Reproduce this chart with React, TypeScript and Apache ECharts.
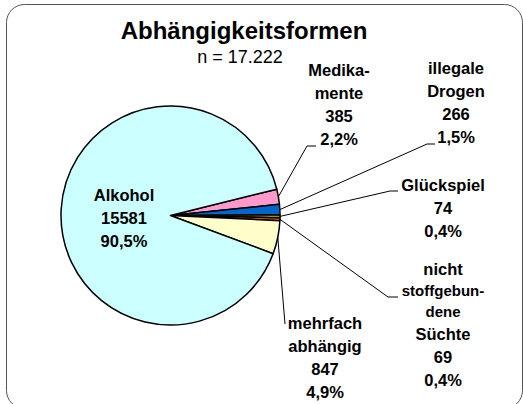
import React, { useEffect, useRef } from 'react';
import * as echarts from 'echarts';

const categories = ['Medikamente', 'illegale Drogen', 'Glückspiel', 'nicht stoffgebundene Süchte', 'mehrfach abhängig', 'Alkohol'];
const labelNameLines = [['Medika-', 'mente'], ['illegale', 'Drogen'], ['Glückspiel'], ['nicht', 'stoffgebun-', 'dene', 'Süchte'], ['mehrfach', 'abhängig'], ['Alkohol']];
const smallLines = ['stoffgebun-', 'dene'];
const values = [385, 266, 74, 69, 847, 15581];
const colors = ['#FF99CC', '#0066CC', '#999900', '#FF6600', '#FFFFCC', '#CCFFFF'];
const titleText = 'Abhängigkeitsformen';
const subtitleText = 'n = 17.222';

const FONT = "'Liberation Sans', Arial, sans-serif";

// label layout (positions only): center x, top y, elbow and end of leader line
const labelPos: { x: number; y: number; elbow?: number[]; end?: number[] }[] = [
  { x: 339, y: 58, elbow: [307, 146], end: [316, 146] },
  { x: 456, y: 56.5, elbow: [427, 144], end: [435, 144] },
  { x: 443, y: 173, elbow: [390, 191], end: [398, 191] },
  { x: 443, y: 257, elbow: [388, 297], end: [398, 297] },
  { x: 325, y: 311, elbow: [285, 324], end: [285, 324] },
  { x: 124, y: 183.5 },
];

export default function App() {
  const ref = useRef<HTMLDivElement>(null);
  useEffect(() => {
    if (!ref.current) return;
    const chart = echarts.init(ref.current, undefined, { renderer: 'svg' });
    const total = values.reduce((a, b) => a + b, 0);
    const cx = 170.5, cy = 215.5, R = 109.5, startAngle = 13.9;
    chart.setOption({
      animation: false,
      backgroundColor: '#fff',
      graphic: [
        {
          type: 'rect',
          shape: { x: 6.5, y: 4.5, width: 516, height: 404, r: 18 },
          style: { fill: 'none', stroke: '#555', lineWidth: 1 },
          silent: true,
        },
        {
          type: 'text',
          x: 244,
          y: 30.5,
          style: { text: titleText, align: 'center', verticalAlign: 'middle', font: "bold 24px 'Liberation Sans', Arial, sans-serif", fill: '#000' },
        },
        {
          type: 'text',
          x: 240,
          y: 56.5,
          style: { text: subtitleText, align: 'center', verticalAlign: 'middle', font: "18px 'Liberation Sans', Arial, sans-serif", fill: '#000' },
        },
      ],
      series: [
        {
          type: 'pie',
          radius: R,
          center: [cx, cy],
          startAngle,
          clockwise: true,
          avoidLabelOverlap: false,
          emphasis: { disabled: true },
          itemStyle: { borderColor: '#000', borderWidth: 1.5 },
          label: {
            show: true,
            position: 'outside',
            color: '#000',
            formatter: (p: any) => {
              const i = p.dataIndex;
              const pct = ((values[i] / total) * 100).toFixed(1).replace('.', ',') + '%';
              const nameParts = labelNameLines[i].map((l) => `{${smallLines.includes(l) ? 's' : 'b'}|${l}}`);
              return [...nameParts, `{b|${values[i]}}`, `{b|${pct}}`].join('\n');
            },
            rich: {
              b: { fontSize: 16.5, fontWeight: 'bold', lineHeight: 23, fontFamily: FONT, color: '#000', align: 'center' },
              s: { fontSize: 15, fontWeight: 'bold', lineHeight: 21, fontFamily: FONT, color: '#000', align: 'center' },
            },
          },
          labelLine: { show: true, length: 10, length2: 10, lineStyle: { color: '#000', width: 1 } },
          labelLayout: (params: any) => {
            const i = params.dataIndex;
            const L = labelPos[i];
            const out: any = { x: L.x, y: L.y, align: 'center', verticalAlign: 'top' };
            if (L.elbow && L.end) {
              let anchor = params.labelLinePoints && params.labelLinePoints[0];
              if (!anchor) {
                let before = 0;
                for (let k = 0; k < i; k++) before += values[k];
                const mid = startAngle - ((before + values[i] / 2) / total) * 360;
                const rad = (mid * Math.PI) / 180;
                anchor = [cx + R * Math.cos(rad), cy - R * Math.sin(rad)];
              }
              out.labelLinePoints = [anchor, L.elbow, L.end];
            }
            return out;
          },
          data: values.map((v, i) => ({
            value: v,
            name: categories[i],
            itemStyle: { color: colors[i] },
            ...(i === 5 ? { label: { position: 'inside' }, labelLine: { show: false } } : {}),
          })),
        },
      ],
    });
    return () => chart.dispose();
  }, []);
  return <div ref={ref} style={{ position: 'fixed', left: 0, top: 0, width: 523, height: 404 }} />;
}
